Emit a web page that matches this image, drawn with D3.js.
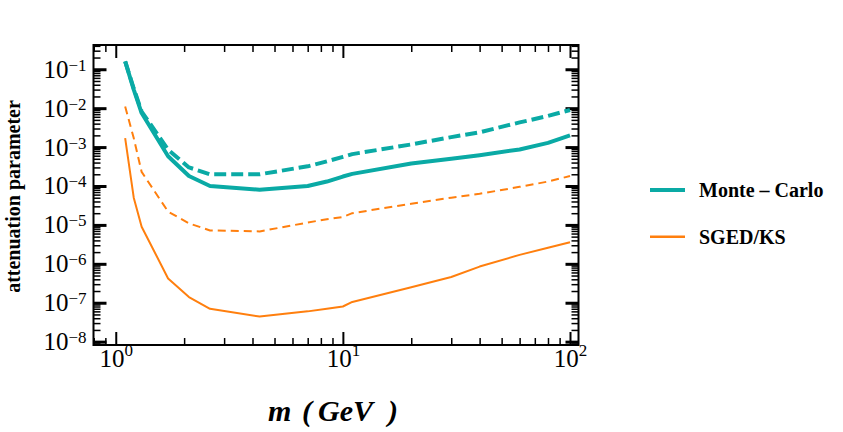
<!DOCTYPE html>
<html>
<head>
<meta charset="utf-8">
<script src="https://cdn.jsdelivr.net/npm/d3@7"></script>
<style>
  html, body { margin: 0; padding: 0; background: #fff; }
  svg { display: block; }
  text { font-family: "Liberation Serif", "DejaVu Serif", serif; }
</style>
</head>
<body>
<svg id="chart" width="843" height="432"></svg>
<script>
// ---- data ----
const masses = [1.1, 1.2, 1.3, 1.7, 2.1, 2.6, 4.3, 7, 8.5, 10, 11, 20, 30, 40, 60, 80, 100];
const monteCarloSolid  = [0.16, 0.03, 7.5e-3, 5.8e-4, 1.8e-4, 1.0e-4, 8.0e-5, 1.0e-4, 1.3e-4, 1.75e-4, 2.05e-4, 3.8e-4, 5.0e-4, 6.2e-4, 8.7e-4, 1.28e-3, 2.0e-3];
const monteCarloDashed = [0.16, 0.032, 8.2e-3, 8.6e-4, 3.0e-4, 2.0e-4, 2.0e-4, 3.2e-4, 4.3e-4, 5.6e-4, 6.6e-4, 1.17e-3, 1.8e-3, 2.4e-3, 4.3e-3, 6.3e-3, 9.0e-3];
const sgedSolid  = [1.7e-3, 5e-5, 9e-6, 4.2e-7, 1.4e-7, 7.0e-8, 4.4e-8, 6.0e-8, 7.0e-8, 8.0e-8, 1.05e-7, 2.5e-7, 4.6e-7, 8.5e-7, 1.7e-6, 2.6e-6, 3.6e-6];
const sgedDashed = [1.1e-2, 1.7e-3, 2.3e-4, 2.2e-5, 1.1e-5, 7.2e-6, 6.8e-6, 1.15e-5, 1.4e-5, 1.6e-5, 2.0e-5, 3.5e-5, 5.0e-5, 6.3e-5, 9.5e-5, 1.3e-4, 1.8e-4];
const xMajorTicks = [1, 10, 100];
const xTickExponents = ["0", "1", "2"];
const yMajorTicks = [1e-8, 1e-7, 1e-6, 1e-5, 1e-4, 1e-3, 1e-2, 1e-1];
const yTickExponents = ["−8", "−7", "−6", "−5", "−4", "−3", "−2", "−1"];
const legendLabels = ["Monte – Carlo", "SGED/KS"];
const xTitleParts = ["m", "(", "GeV", ")"];
const yTitle = "attenuation parameter";

// ---- layout ----
const svg = d3.select("#chart");
const L = 93.5, T = 45, W = 485, H = 300;
const teal = "#0aaaa5", orange = "#ff7f0e";

const x = d3.scaleLog().domain([0.798, 109]).range([L, L + W]);
const y = d3.scaleLog().domain([8.2e-9, 0.42]).range([T + H, T]);

function minorTicks(lo, hi) {
  const out = [];
  for (let e = Math.floor(Math.log10(lo)) - 1; e <= Math.ceil(Math.log10(hi)); e++) {
    for (let k = 2; k <= 9; k++) {
      const v = k * Math.pow(10, e);
      if (v > lo && v < hi) out.push(v);
    }
  }
  return out;
}
const xMinor = minorTicks(0.798, 109);
const yMinor = minorTicks(8.2e-9, 0.42);

const majLen = 13, minLen = 7;

function styleTicks(g, w) {
  g.select(".domain").remove();
  g.selectAll(".tick line").attr("stroke", "#000").attr("stroke-width", w);
}

// bottom
svg.append("g").attr("transform", `translate(0,${T + H})`)
  .call(d3.axisBottom(x).tickValues(xMinor).tickSize(-minLen).tickFormat(""))
  .call(g => { styleTicks(g, 1.5); g.selectAll("text").remove(); });
const bx = svg.append("g").attr("transform", `translate(0,${T + H})`)
  .call(d3.axisBottom(x).tickValues(xMajorTicks).tickSize(-majLen).tickPadding(0).tickFormat(""))
  .call(g => styleTicks(g, 2));
bx.selectAll(".tick text").each(function(d, i) {
  const t = d3.select(this).attr("dy", null).attr("y", 22)
    .attr("font-size", 25).attr("fill", "#000").attr("text-anchor", "middle");
  t.text(null);
  t.append("tspan").text("10");
  t.append("tspan").attr("dy", -11).attr("font-size", 17).text(xTickExponents[i]);
});
// top
svg.append("g").attr("transform", `translate(0,${T})`)
  .call(d3.axisTop(x).tickValues(xMinor).tickSize(-minLen).tickFormat(""))
  .call(g => { styleTicks(g, 1.5); g.selectAll("text").remove(); });
svg.append("g").attr("transform", `translate(0,${T})`)
  .call(d3.axisTop(x).tickValues(xMajorTicks).tickSize(-majLen).tickFormat(""))
  .call(g => { styleTicks(g, 2); g.selectAll("text").remove(); });
// left
svg.append("g").attr("transform", `translate(${L},0)`)
  .call(d3.axisLeft(y).tickValues(yMinor).tickSize(-minLen).tickFormat(""))
  .call(g => { styleTicks(g, 1.5); g.selectAll("text").remove(); });
const ly = svg.append("g").attr("transform", `translate(${L},0)`)
  .call(d3.axisLeft(y).tickValues(yMajorTicks).tickSize(-majLen).tickPadding(0).tickFormat(""))
  .call(g => styleTicks(g, 3));
ly.selectAll(".tick text").each(function(d, i) {
  const t = d3.select(this).attr("dy", null).attr("x", -7).attr("y", 8)
    .attr("font-size", 25).attr("fill", "#000").attr("text-anchor", "end");
  t.text(null);
  t.append("tspan").text("10");
  t.append("tspan").attr("dy", -7).attr("font-size", 17).text(yTickExponents[i]);
});
// right
svg.append("g").attr("transform", `translate(${L + W},0)`)
  .call(d3.axisRight(y).tickValues(yMinor).tickSize(-minLen).tickFormat(""))
  .call(g => { styleTicks(g, 1.5); g.selectAll("text").remove(); });
svg.append("g").attr("transform", `translate(${L + W},0)`)
  .call(d3.axisRight(y).tickValues(yMajorTicks).tickSize(-majLen).tickFormat(""))
  .call(g => { styleTicks(g, 3); g.selectAll("text").remove(); });

// frame
svg.append("rect").attr("x", L).attr("y", T).attr("width", W).attr("height", H)
  .attr("fill", "none").attr("stroke", "#000").attr("stroke-width", 2);

// lines
svg.append("clipPath").attr("id", "clip").append("rect")
  .attr("x", L).attr("y", T).attr("width", W).attr("height", H);
const line = d3.line().x(d => x(d[0])).y(d => y(d[1]));
const series = [
  { vals: sgedDashed, color: orange, w: 2, dash: "8,5" },
  { vals: sgedSolid, color: orange, w: 2, dash: null },
  { vals: monteCarloDashed, color: teal, w: 4, dash: "12,5" },
  { vals: monteCarloSolid, color: teal, w: 4, dash: null },
];
const plot = svg.append("g").attr("clip-path", "url(#clip)");
series.forEach(s => {
  plot.append("path")
    .datum(masses.map((m, i) => [m, s.vals[i]]))
    .attr("d", line)
    .attr("fill", "none")
    .attr("stroke", s.color)
    .attr("stroke-width", s.w)
    .attr("stroke-linejoin", "round")
    .attr("stroke-dasharray", s.dash);
});

// axis titles
svg.append("text")
  .attr("transform", `translate(20,196.5) rotate(-90)`)
  .attr("text-anchor", "middle").attr("font-size", 20).attr("font-weight", "bold")
  .attr("fill", "#000").text(yTitle);
const xt = svg.append("text").attr("y", 421)
  .attr("font-size", 30).attr("font-weight", "bold").attr("font-style", "italic")
  .attr("fill", "#000");
const xTitleX = [268, 302, 318, 388];
xTitleParts.forEach((p, i) => xt.append("tspan").attr("x", xTitleX[i]).text(p));

// legend
const legendColors = [teal, orange], legendWidths = [4, 2.5];
legendLabels.forEach((lab, i) => {
  const yy = 190 + i * 46.7;
  svg.append("line").attr("x1", 650).attr("x2", 685).attr("y1", yy).attr("y2", yy)
    .attr("stroke", legendColors[i]).attr("stroke-width", legendWidths[i]);
  svg.append("text").attr("x", 699).attr("y", yy + 7).attr("font-size", 20)
    .attr("font-weight", "bold").attr("fill", "#000").text(lab);
});
</script>
</body>
</html>
